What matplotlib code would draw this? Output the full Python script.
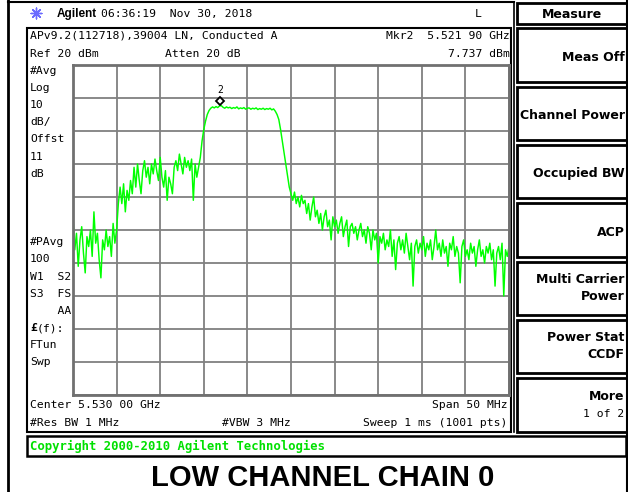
import numpy as np
import matplotlib
matplotlib.use("Agg")
import matplotlib.pyplot as plt
from matplotlib.patches import Rectangle
from matplotlib import transforms

# analyzer settings
center_ghz = 5.530
span_mhz = 50
ref_dbm = 20
db_per_div = 10
marker_ghz = 5.52190
marker_dbm = 7.737

# trace, 0.2 MHz steps across the span (dBm)
trace_dbm = [
    -26, -36, -31, -41, -33, -29, -37, -43, -32, -35,
    -30, -38, -24.5, -34, -31, -39, -44.5, -33, -36, -30,
    -35, -32, -38, -28, -34, -30, -22, -17, -22, -16,
    -24.5, -18, -21, -15, -19, -11, -17, -10, -15, -19,
    -12, -9, -14, -11, -16, -10, -13, -8.5, -12, -15,
    -8, -14, -17, -12, -21, -14, -16, -19, -11, -9,
    -12, -7, -10, -13, -8, -11, -9, -12, -8.5, -21,
    -10, -14, -11, -8, -3, 0.5, 3, 5, 6.2, 6.9,
    7.3, 7.0, 7.4, 7.1, 7.6, 7.7, 7.2, 6.9, 7.3, 7.0,
    7.2, 6.8, 7.1, 6.9, 7.3, 6.7, 7.0, 6.8, 7.1, 6.6,
    6.9, 7.0, 6.6, 6.9, 6.7, 7.0, 6.5, 6.8, 6.6, 6.9,
    6.5, 6.8, 6.6, 6.9, 6.4, 6.7, 6.0, 5.0, 3.5, 0.5,
    -3, -6.5, -10, -13.5, -17, -19, -21, -18.5, -22, -20,
    -23, -19.5, -22, -21, -25, -22, -27, -23, -20, -26,
    -24, -28, -25, -30, -26, -24, -29, -27, -33, -26,
    -29, -27, -31, -28, -26, -32, -29, -27, -35, -29,
    -28, -31, -29, -33, -30, -28, -32, -30, -34, -29,
    -31, -36, -30, -33, -31, -40, -32, -34, -31, -36,
    -33, -35, -30, -38, -33, -42, -34, -32, -36, -33,
    -37, -31, -35, -39, -34, -47, -35, -33, -37, -34,
    -36, -32, -38, -34, -36, -33, -39, -35, -30, -36,
    -34, -38, -33, -37, -35, -41, -34, -36, -32, -38,
    -35, -37, -46, -35, -33, -38, -36, -39, -34, -37,
    -35, -41, -36, -33, -38, -36, -40, -35, -37, -34,
    -39, -36, -47, -37, -35, -39, -34, -50, -36, -38,
    -35,
]

left_lines = ["#Avg", "Log", "10", "dB/", "Offst", "11", "dB"]
left_lines2 = ["#PAvg", "100", "W1  S2", "S3  FS", "    AA", None, "FTun", "Swp"]
softkeys = [["Meas Off"], ["Channel Power"], ["Occupied BW"], ["ACP"],
            ["Multi Carrier", "Power"], ["Power Stat", "CCDF"], ["More", "1 of 2"]]

W, H = 628, 492
mono = "DejaVu Sans Mono"
green = "#00ff00"

freq_ghz = np.linspace(center_ghz - span_mhz / 2000, center_ghz + span_mhz / 2000, len(trace_dbm))

fig = plt.figure(figsize=(W / 100, H / 100), dpi=100)
bg = fig.add_axes([0, 0, 1, 1])
bg.set_xlim(0, W)
bg.set_ylim(H, 0)
bg.axis("off")


def px_box(x0, y0, x1, y1):
    return [x0 / W, 1 - y1 / H, (x1 - x0) / W, (y1 - y0) / H]


# frame lines
bg.plot([8, 8], [0, H], color="black", lw=2)
bg.plot([8, 514], [2, 2], color="black", lw=1.5)
bg.plot([514, 514], [2, 432], color="black", lw=1.2)
bg.plot([626.5, 626.5], [0, H], color="black", lw=1.5)
bg.add_patch(Rectangle((27, 28), 484, 404, fill=False, ec="black", lw=1.5))
bg.add_patch(Rectangle((27, 436), 599, 20, fill=False, ec="black", lw=1.8))

# header
bg.scatter([36], [13], marker=(8, 2, 0), s=60, color="#6a6aff", lw=1)
bg.text(57, 14, "Agilent", family="Liberation Sans", weight="bold", fontsize=8.5,
        va="center", ha="left")
bg.text(101, 14, "06:36:19  Nov 30, 2018", family=mono, fontsize=8.2, va="center")
bg.text(478, 14, "L", family=mono, fontsize=8.2, va="center", ha="center")

# top annotation
bg.text(30, 36, "APv9.2(112718),39004 LN, Conducted A", family=mono, fontsize=8.2, va="center")
bg.text(30, 54, "Ref 20 dBm", family=mono, fontsize=8.2, va="center")
bg.text(165, 54, "Atten 20 dB", family=mono, fontsize=8.2, va="center")
bg.text(510, 36, "Mkr2  5.521 90 GHz", family=mono, fontsize=8.2, va="center", ha="right")
bg.text(510, 54, "7.737 dBm", family=mono, fontsize=8.2, va="center", ha="right")

# left column
step = 17.16
for i, s in enumerate(left_lines):
    bg.text(30, 70.7 + i * step, s, family=mono, fontsize=8.2, va="center")
for i, s in enumerate(left_lines2):
    y = 70.7 + (10 + i) * step
    if s is None:
        bg.text(30, y, "\u00a3", family=mono, weight="bold", fontsize=8.2, va="center")
        bg.text(36.9, y, "(f):", family=mono, fontsize=8.2, va="center")
    else:
        bg.text(30, y, s, family=mono, fontsize=8.2, va="center")

# bottom annotation
bg.text(30, 405, "Center 5.530 00 GHz", family=mono, fontsize=8.2, va="center")
bg.text(508, 405, "Span 50 MHz", family=mono, fontsize=8.2, va="center", ha="right")
bg.text(30, 423, "#Res BW 1 MHz", family=mono, fontsize=8.2, va="center")
bg.text(222, 423, "#VBW 3 MHz", family=mono, fontsize=8.2, va="center")
bg.text(507, 423, "Sweep 1 ms (1001 pts)", family=mono, fontsize=8.2, va="center", ha="right")
bg.text(30, 446.5, "Copyright 2000-2010 Agilent Technologies", family=mono, weight="bold",
        fontsize=8.8, va="center", color="#00e000")
bg.text(323, 478, "LOW CHANNEL CHAIN 0", family="Liberation Sans", weight="bold",
        fontsize=21, va="center", ha="center")

# softkeys
bg.add_patch(Rectangle((516.7, 2.7), 110, 21.3, fill=False, ec="black", lw=2))
bg.text(571.7, 14, "Measure", family="DejaVu Sans", weight="bold", fontsize=9,
        va="center", ha="center")
for k, lab in enumerate(softkeys):
    top = 28.3 + k * 58.33
    bg.add_patch(Rectangle((516.7, top), 110, 53.3, fill=False, ec="black", lw=2))
    if len(lab) == 1:
        bg.text(624.5, top + 29, lab[0], family="DejaVu Sans", weight="bold", fontsize=9,
                va="center", ha="right")
    else:
        bg.text(624.5, top + 18, lab[0], family="DejaVu Sans", weight="bold", fontsize=9,
                va="center", ha="right")
        if lab[1] == "1 of 2":
            bg.text(624.5, top + 36, lab[1], family=mono, fontsize=8.2, va="center", ha="right")
        else:
            bg.text(624.5, top + 35, lab[1], family="DejaVu Sans", weight="bold", fontsize=9,
                    va="center", ha="right")

# spectrum graticule
ax = fig.add_axes(px_box(73, 65, 509, 395))
ax.set_xlim(freq_ghz[0], freq_ghz[-1])
ax.set_ylim(ref_dbm - 10 * db_per_div, ref_dbm)
ax.set_xticks(np.linspace(freq_ghz[0], freq_ghz[-1], 11))
ax.set_yticks(np.arange(ref_dbm - 10 * db_per_div, ref_dbm + 1, db_per_div))
ax.tick_params(length=0, labelbottom=False, labelleft=False)
ax.grid(True, color="#808080", lw=1.3)
for sp in ax.spines.values():
    sp.set_color("#707070")
    sp.set_linewidth(2)
ax.set_facecolor("white")

ax.plot(freq_ghz, trace_dbm, color=green, lw=1.05)

# marker 2
mk_tr = transforms.offset_copy(ax.transData, fig=fig, x=0, y=4.5, units="dots")
ax.plot([marker_ghz], [marker_dbm], marker="D", ms=4.5, mfc="white", mec="black",
        mew=1.3, transform=mk_tr, clip_on=False)
ax.annotate("2", xy=(marker_ghz, marker_dbm), xytext=(0, 15.5), textcoords="offset pixels",
            ha="center", va="center", family=mono, fontsize=7)

fig.savefig("out.png", dpi=100)
